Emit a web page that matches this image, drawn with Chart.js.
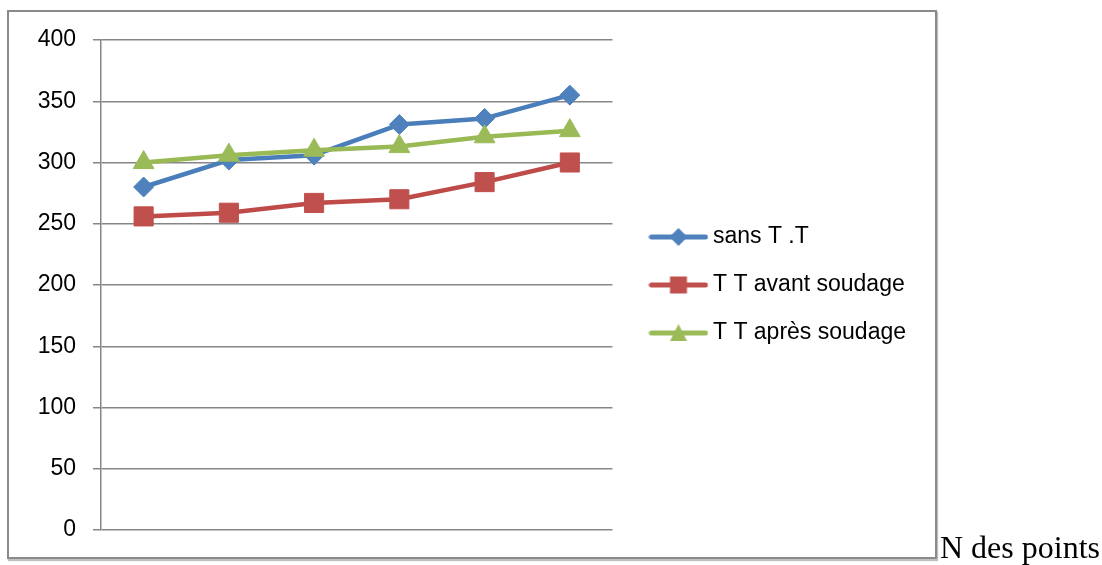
<!DOCTYPE html>
<html>
<head>
<meta charset="utf-8">
<script src="https://cdn.jsdelivr.net/npm/chart.js@4.4.1/dist/chart.umd.min.js"></script>
<style>
body { margin: 0; background: #fff; width: 1102px; height: 565px; overflow: hidden; position: relative; }
#frame { position: absolute; left: 7px; top: 10px; width: 930px; height: 549px; box-sizing: border-box; border: 2px solid #8a8a8a; box-shadow: 1px 2px 1px rgba(0,0,0,.25); }
#wrap { position: absolute; left: 0; top: 0; width: 1102px; height: 565px; }
#xtitle { position: absolute; left: 940px; top: 531px; font: 32px/32px "Liberation Serif", "Times New Roman", serif; color: #000; white-space: nowrap; }
</style>
</head>
<body>
<div id="frame"></div>
<div id="wrap"><canvas id="c" width="1102" height="565"></canvas></div>
<div id="xtitle">N des points</div>
<script>
// données
const points = ['1', '2', '3', '4', '5', '6'];
const sansTT = [280, 302, 306, 331, 336, 355];
const avantSoudage = [256, 259, 267, 270, 284, 300];
const apresSoudage = [300, 306, 310, 313, 321, 326];
const seriesNames = ['sans T .T', 'T T avant soudage', 'T T après soudage'];
const yTicks = [0, 50, 100, 150, 200, 250, 300, 350, 400];

const font = { family: '"Liberation Sans", Arial, sans-serif', size: 23 };
const gridColor = '#868686';

// petite icône "ligne + marqueur" pour la légende
function legendIcon(color, shape) {
	const cv = document.createElement('canvas');
	cv.width = 60;
	cv.height = 24;
	const ctx = cv.getContext('2d');
	ctx.strokeStyle = color;
	ctx.lineWidth = 5;
	ctx.lineCap = 'round';
	ctx.beginPath();
	ctx.moveTo(3, 12);
	ctx.lineTo(57, 12);
	ctx.stroke();
	ctx.fillStyle = color;
	ctx.beginPath();
	if (shape === 'diamond') {
		ctx.moveTo(30, 3); ctx.lineTo(39, 12); ctx.lineTo(30, 21); ctx.lineTo(21, 12);
	} else if (shape === 'square') {
		ctx.rect(21.5, 3.5, 17, 17);
	} else {
		ctx.moveTo(30, 3); ctx.lineTo(38.5, 20); ctx.lineTo(21.5, 20);
	}
	ctx.closePath();
	ctx.fill();
	return cv;
}

const icons = [
	legendIcon('#4F81BD', 'diamond'),
	legendIcon('#C0504D', 'square'),
	legendIcon('#9BBB59', 'triangle')
];

new Chart(document.getElementById('c'), {
	type: 'line',
	data: {
		labels: points,
		datasets: [
			{
				label: seriesNames[0],
				data: sansTT,
				order: 3,
				borderColor: '#4A7EBB',
				backgroundColor: '#4F81BD',
				borderWidth: 4.5,
				borderJoinStyle: 'round',
				pointStyle: 'rectRot',
				pointRadius: 10,
				pointBorderWidth: 1,
				pointBorderColor: '#4F81BD',
				tension: 0
			},
			{
				label: seriesNames[1],
				data: avantSoudage,
				order: 2,
				borderColor: '#BE4B48',
				backgroundColor: '#C0504D',
				borderWidth: 4.5,
				borderJoinStyle: 'round',
				pointStyle: 'rect',
				pointRadius: 13.5,
				pointBorderWidth: 1,
				pointBorderColor: '#C0504D',
				tension: 0
			},
			{
				label: seriesNames[2],
				data: apresSoudage,
				order: 1,
				borderColor: '#98B954',
				backgroundColor: '#9BBB59',
				borderWidth: 4.5,
				borderJoinStyle: 'round',
				pointStyle: 'triangle',
				pointRadius: 12,
				pointBorderWidth: 1,
				pointBorderColor: '#9BBB59',
				tension: 0
			}
		]
	},
	options: {
		responsive: false,
		animation: false,
		layout: { padding: { left: 0, top: 40, right: 186, bottom: 35 } },
		scales: {
			x: { display: false, offset: true },
			y: {
				min: yTicks[0],
				max: yTicks[yTicks.length - 1],
				ticks: { stepSize: yTicks[1] - yTicks[0], padding: 17, color: '#000', font: font },
				grid: { color: gridColor, lineWidth: 1.5, tickLength: 8 },
				border: { color: gridColor, width: 1.5 },
				afterFit: function(scale) { scale.width = 101; }
			},
			gap: {
				type: 'linear',
				position: 'right',
				ticks: { display: false },
				grid: { display: false },
				border: { display: false },
				afterFit: function(scale) { scale.width = 18; }
			}
		},
		plugins: {
			tooltip: { enabled: false },
			legend: {
				position: 'right',
				align: 'center',
				maxWidth: 320,
				labels: {
					usePointStyle: true,
					pointStyleWidth: 46,
					padding: 25,
					color: '#000',
					font: font,
					generateLabels: function(chart) {
						return Chart.defaults.plugins.legend.labels.generateLabels(chart)
							.sort((a, b) => a.datasetIndex - b.datasetIndex)
							.map(l => ({ ...l, pointStyle: icons[l.datasetIndex] }));
					}
				}
			}
		}
	}
});
</script>
</body>
</html>
